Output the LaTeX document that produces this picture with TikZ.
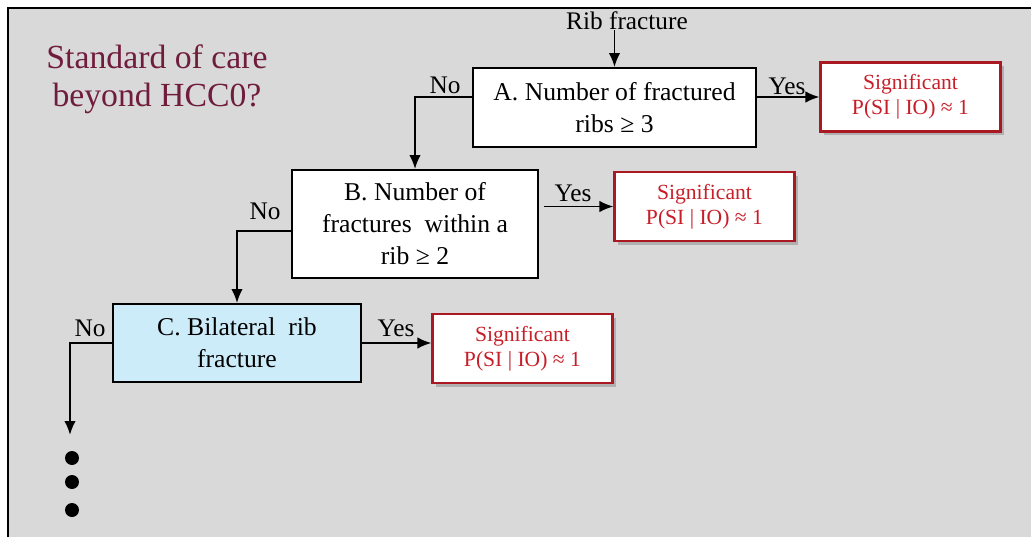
\documentclass[tikz,border=0pt]{standalone}
\usepackage{fontspec}
\setmainfont{Liberation Serif}
\usetikzlibrary{arrows.meta,shadows}
\definecolor{carebg}{RGB}{217, 217, 217}
\definecolor{caremaroon}{RGB}{112, 28, 60}
\definecolor{carered}{RGB}{200, 30, 40}
\definecolor{careblue}{RGB}{205, 236, 250}
\tikzset{
  testbox/.style={draw=black, line width=1.1pt, fill=white, align=center,
    inner sep=0pt, font=\fontsize{14.6}{18.2}\selectfont},
  sigbox/.style={draw=carered!85!black, line width=1.2pt, fill=white, align=center,
    inner sep=0pt, text=carered, minimum width=3.6cm, minimum height=1.38cm,
    font=\fontsize{12.3}{14.3}\selectfont,
    drop shadow={shadow xshift=2pt, shadow yshift=-2pt, opacity=0.45}},
  lbl/.style={inner sep=0pt, font=\fontsize{14.4}{17}\selectfont},
  flow/.style={line width=1.1pt, -{Latex[length=2.8mm, width=2.3mm]}}
}
\begin{document}
\begin{tikzpicture}[x=0.02cm, y=-0.02cm]
        \useasboundingbox (0,0) rectangle (1031,537);
        % Frame
        \fill[white] (0,0) rectangle (1031,537);
        \fill[carebg] (8,8) rectangle (1031,537);
        \draw[line width=1.4pt] (8,537) -- (8,8) -- (1031,8);

        % Title
        \node[text=caremaroon, align=center, font=\fontsize{19.2}{21.6}\selectfont] (title) at (157,79) {Standard of care\\beyond HCC0?};

        % Tests
        \node[lbl] (rib) at (627,21) {Rib fracture};
        \node[testbox, minimum width=5.66cm, minimum height=1.58cm] (A) at (614.5,107.5) {A. Number of fractured\\ribs ≥ 3};
        \node[testbox, minimum width=4.92cm, minimum height=2.16cm] (B) at (415,224) {B. Number of\\fractures~ within a\\rib ≥ 2};
        \node[testbox, fill=careblue, minimum width=4.96cm, minimum height=1.56cm] (C) at (237,343) {C. Bilateral~ rib\\fracture};

        % Outcomes
        \node[sigbox] (SA) at (910.5,97) {Significant\\P(SI | IO) ≈ 1};
        \node[sigbox] (SB) at (704.5,206.5) {Significant\\P(SI | IO) ≈ 1};
        \node[sigbox] (SC) at (522.5,348.5) {Significant\\P(SI | IO) ≈ 1};

        % Yes branches
        \draw[flow] (A.east |- SA.west) -- (SA.west);
        \node[lbl] (yesA) at (787,86) {Yes};
        \draw[flow] ([xshift=0.1cm]B.east |- SB.west) -- (SB.west);
        \node[lbl] (yesB) at (573,193) {Yes};
        \draw[flow] (C.east) -- (SC.west |- C.east);
        \node[lbl] (yesC) at (396,328) {Yes};

        % No branches
        \draw[flow] (rib.south -| A.north) -- (A.north);
        \draw[flow] (A.west |- SA.west) -| (B.north);
        \node[lbl] (noA) at (445,85) {No};
        \draw[flow] ([yshift=-0.14cm]B.west) -| (C.north);
        \node[lbl] (noB) at (265,211) {No};
        \coordinate (more) at (70,435);
        \draw[flow] (C.west) -| (more);
        \node[lbl] (noC) at (90,328) {No};

        % Continued
        \foreach \y in {458,482,510}
          \fill (72,\y) circle (0.14cm);
    \end{tikzpicture}
\end{document}
